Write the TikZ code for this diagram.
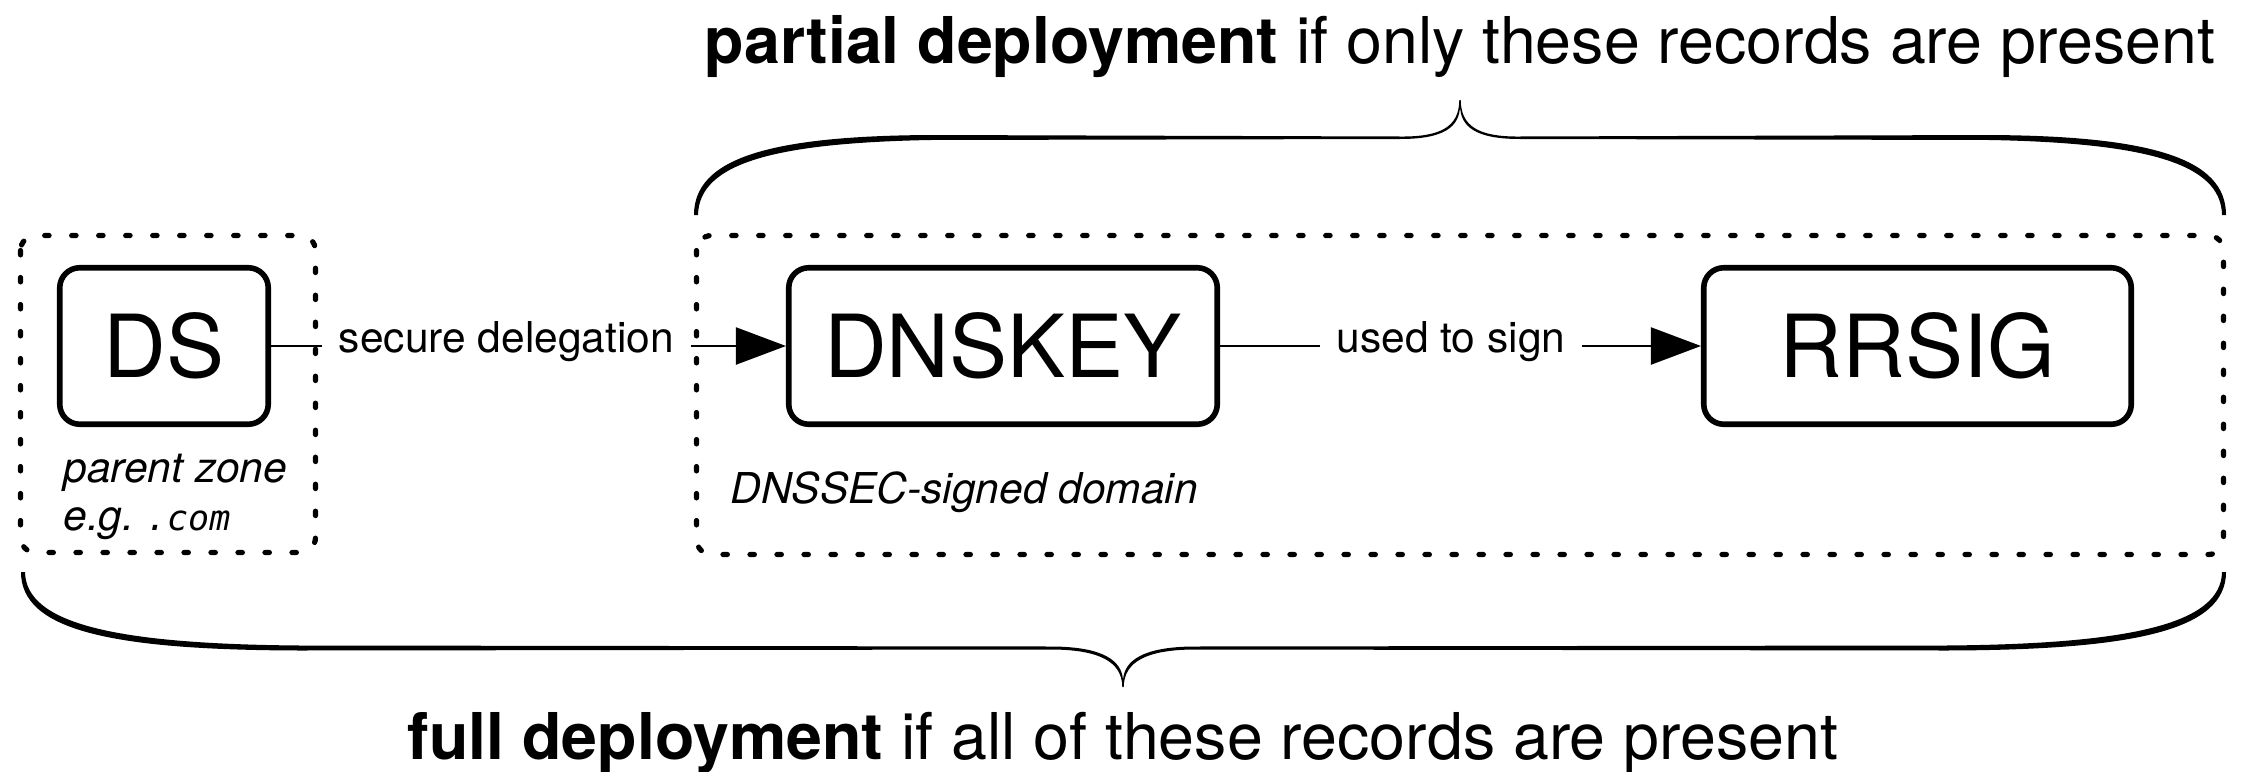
\documentclass[tikz,border=0pt]{standalone}
\usepackage{fontspec}
\setmainfont{TeX Gyre Heros}
\newfontfamily\codefont{DejaVu Sans Mono}
\usetikzlibrary{arrows.meta}

\begin{document}
\begin{tikzpicture}[x=0.5pt,y=-0.5pt,
  record/.style={draw, line width=2.8pt, rounded corners=10pt,
    minimum width=104.25pt, minimum height=78.25pt, inner sep=0pt,
    font=\fontsize{43.5pt}{52pt}\selectfont},
  zone/.style={line width=2.6pt, line cap=round,
    dash pattern=on 2.2pt off 11.3pt, rounded corners=7.5pt},
  link/.style={line width=1.1pt, -{Triangle[length=25pt,width=18.5pt]}},
  linklabel/.style={fill=white, inner xsep=8.5pt, inner ysep=0pt,
    text height=0.75em, text depth=0.1em,
    font=\fontsize{21.25pt}{25pt}\selectfont},
  note/.style={inner sep=0pt, anchor=base west,
    font=\fontsize{21.25pt}{25pt}\selectfont\itshape},
  heading/.style={inner sep=0pt, anchor=base,
    font=\fontsize{32.25pt}{38pt}\selectfont},
  bracefill/.style={fill=black}
]
\useasboundingbox (0,0) rectangle (2247,771);

% record boxes
\node[record] (ds)     at (164,346)    {DS};
\node[record, minimum width=214.25pt] (dnskey) at (1003,346)   {DNSKEY};
\node[record, minimum width=213.75pt] (rrsig)  at (1917.5,346) {RRSIG};

% connectors
\draw[link] (ds) -- node[linklabel, pos=0.457] (deleg) {secure delegation} (dnskey);
\draw[link] (dnskey) -- node[linklabel, pos=0.48] (signs) {used to sign} (rrsig);

% zone frames
\draw[zone] (20.5,235.5) rectangle (315.5,552.5);
\draw[zone] (696.5,235.5) rectangle (2223.5,554.5);

% zone captions
\node[note] (pzone) at (63,482) {parent zone};
\node[note] (pzex)  at (63,530) {e.g.\ {\codefont\fontsize{17.5pt}{20pt}\selectfont .com}};
\node[note] (signed) at (730,503) {DNSSEC-signed domain};

% brace over the signed domain
\fill[bracefill]
  (694,215) .. controls (694,158) and (770,136) .. (930,135)
  -- (1400,136.5) .. controls (1442,137) and (1459,126) .. (1459.3,100)
  -- (1460.7,100) .. controls (1461,126) and (1478,137) .. (1520,136.5)
  -- (1990,135) .. controls (2150,136) and (2226,158) .. (2226,215)
  -- (2222,215) .. controls (2221,163) and (2145,143) .. (1990,140)
  -- (1520,139) .. controls (1476,139) and (1460.5,127) .. (1460,106)
  .. controls (1459.5,127) and (1444,139) .. (1400,139)
  -- (930,140) .. controls (775,143) and (699,163) .. (698,215) -- cycle;

% brace under both zones
\fill[bracefill]
  (21,572) .. controls (21,630) and (110,650) .. (300,650.5)
  -- (1053,649.5) .. controls (1100,650) and (1122,662) .. (1122.3,687)
  -- (1123.7,687) .. controls (1124,662) and (1146,650) .. (1193,649.5)
  -- (1946,650.5) .. controls (2136,650) and (2226,630) .. (2226,572)
  -- (2222,572) .. controls (2221,624) and (2130,644) .. (1946,645.5)
  -- (1193,646.5) .. controls (1144,647) and (1123.5,660) .. (1123,681)
  .. controls (1122.5,660) and (1102,647) .. (1053,646.5)
  -- (300,645.5) .. controls (116,644) and (26,624) .. (25,572) -- cycle;

% headings
\node[heading] (partial) at (1460,63) {\textbf{partial deployment} if only these records are present};
\node[heading] (full) at (1123,759) {\textbf{full deployment} if all of these records are present};
\end{tikzpicture}
\end{document}
